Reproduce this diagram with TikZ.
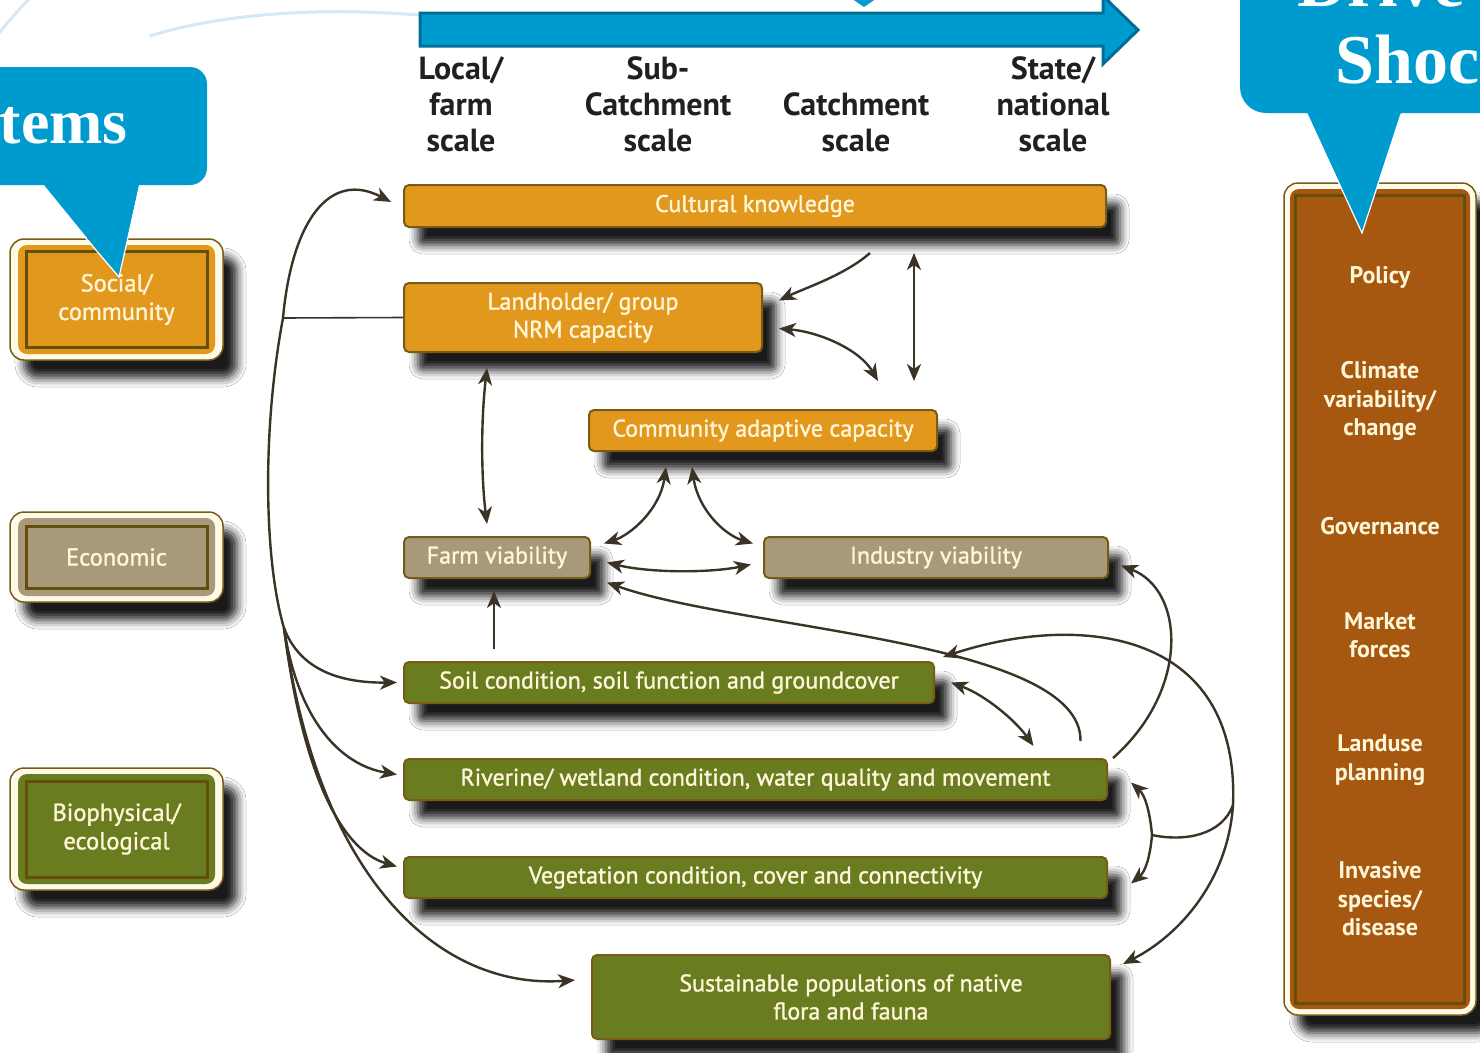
\documentclass[tikz,border=0pt]{standalone}
\usepackage{fontspec}
\setmainfont{PT Sans}
\newfontfamily\labelfont[FakeBold=1.2]{PT Sans}
\newfontfamily\calloutfont{Liberation Serif}
\usetikzlibrary{arrows.meta,shadows.blur}

\definecolor{calloutblue}{RGB}{0,155,206}
\definecolor{arrowblue}{RGB}{0,110,150}
\definecolor{paleblue}{RGB}{214,232,243}
\definecolor{orangebox}{RGB}{226,152,28}
\definecolor{tanbox}{RGB}{167,153,122}
\definecolor{greenbox}{RGB}{106,124,32}
\definecolor{brownbox}{RGB}{166,88,16}
\definecolor{boxline}{RGB}{118,92,22}
\definecolor{innerline}{RGB}{100,78,12}
\definecolor{creamfill}{RGB}{255,250,232}
\definecolor{labeltext}{RGB}{255,246,218}
\definecolor{linkc}{RGB}{58,51,38}
\definecolor{scaletext}{RGB}{35,31,32}

\tikzset{
  boxshadow/.style={blur shadow={shadow xshift=14pt, shadow yshift=-18pt,
      shadow blur radius=9pt, shadow opacity=90}},
  box/.style={draw=boxline, line width=2pt, rounded corners=5pt, inner sep=0pt,
    text=labeltext, align=center, font=\labelfont\fontsize{24}{28}\selectfont, boxshadow},
  catouter/.style={draw=boxline, line width=1.5pt, fill=creamfill,
    rounded corners=14pt, inner sep=0pt, boxshadow},
  catinner/.style={rounded corners=9pt, inner sep=0pt},
  catline/.style={draw=innerline, line width=3pt, inner sep=0pt, text=labeltext,
    align=center, font=\labelfont\fontsize{24.5}{28.5}\selectfont},
  drvtext/.style={text=labeltext, align=center, inner sep=0pt,
    font=\bfseries\fontsize{24}{28.5}\selectfont},
  scalelabel/.style={text=scaletext, align=center, inner sep=0pt,
    font=\bfseries\fontsize{32}{36}\selectfont},
  callouttext/.style={text=white, inner sep=0pt,
    font=\calloutfont\bfseries\fontsize{64}{70}\selectfont},
  link/.style={draw=linkc, line width=2.4pt},
  arr/.style={link, -{Stealth[length=17pt, width=14pt, inset=5pt]}},
  darr/.style={link, {Stealth[length=17pt, width=14pt, inset=5pt]}-{Stealth[length=17pt, width=14pt, inset=5pt]}}
}

\begin{document}
\begin{tikzpicture}[x=1pt, y=-1pt]
    \useasboundingbox (0,0) rectangle (1480,1052);
    \clip (0,0) rectangle (1480,1052);
    \fill[white] (0,0) rectangle (1480,1052);

    \draw[paleblue, line width=3pt] (-5,38) .. controls (8,22) and (18,10) .. (32,-4);
    \draw[paleblue, line width=3pt] (150,36) .. controls (220,14) and (320,6) .. (430,16);

    \filldraw[fill=calloutblue, draw=arrowblue, line width=3pt]
        (420,13) -- (1103,13) -- (1103,-4) -- (1138,30) -- (1103,64) -- (1103,46) -- (420,46) -- cycle;
    \fill[calloutblue] (848,-4) -- (880,-4) -- (864,7) -- cycle;

    \node[scalelabel] (s-local) at ( 461,104) {Local/\\farm\\scale};
    \node[scalelabel] (s-sub)   at ( 658,104) {Sub-\\Catchment\\scale};
    \node[scalelabel] (s-catch) at ( 856,122) {Catchment\\scale};
    \node[scalelabel] (s-state) at (1053,104) {State/\\national\\scale};

    \node[box, fill=orangebox, minimum width=702pt, minimum height=42pt] (cult)  at (755,206)   {Cultural knowledge};
    \node[box, fill=orangebox, minimum width=358pt, minimum height=69pt] (land)  at (583,317.5) {Landholder/ group\\NRM capacity};
    \node[box, fill=orangebox, minimum width=348pt, minimum height=41pt] (comm)  at (763,430.5) {Community adaptive capacity};
    \node[box, fill=tanbox,    minimum width=186pt, minimum height=41pt] (farm)  at (497,557.5) {Farm viability};
    \node[box, fill=tanbox,    minimum width=344pt, minimum height=41pt] (ind)   at (936,557.5) {Industry viability};
    \node[box, fill=greenbox,  minimum width=530pt, minimum height=41pt] (soil)  at (669,682.5) {Soil condition, soil function and groundcover};
    \node[box, fill=greenbox,  minimum width=703pt, minimum height=41pt] (river) at (755.5,779.5) {Riverine/ wetland condition, water quality and movement};
    \node[box, fill=greenbox,  minimum width=703pt, minimum height=41pt] (veg)   at (755.5,877.5) {Vegetation condition, cover and connectivity};
    \node[box, fill=greenbox,  minimum width=518pt, minimum height=84pt] (pop)   at (851,997)   {Sustainable populations of native\\flora and fauna};

    \node[catouter, minimum width=213pt, minimum height=121pt] (social) at (116.5,299.5) {};
    \node[catinner, fill=orangebox, minimum width=197pt, minimum height=109pt] (social-in) at (social) {};
    \node[catline, minimum width=181pt, minimum height=96pt] (social-txt) at (social) {Social/\\community};

    \node[catouter, minimum width=213pt, minimum height=90pt] (econ) at (116.5,557) {};
    \node[catinner, fill=tanbox, minimum width=197pt, minimum height=78pt] (econ-in) at (econ) {};
    \node[catline, minimum width=181pt, minimum height=62pt] (econ-txt) at (econ) {Economic};

    \node[catouter, minimum width=213pt, minimum height=122pt] (bio) at (116.5,829) {};
    \node[catinner, fill=greenbox, minimum width=197pt, minimum height=110pt] (bio-in) at (bio) {};
    \node[catline, minimum width=181pt, minimum height=96pt] (bio-txt) at (bio) {Biophysical/\\ecological};

    \node[catouter, minimum width=192pt, minimum height=832pt] (drv) at (1380,599) {};
    \node[catinner, fill=brownbox, minimum width=180pt, minimum height=820pt] (drv-in) at (drv) {};
    \node[catline, minimum width=169pt, minimum height=808pt] (drv-line) at (drv) {};

    \node[drvtext] (policy)   at (1380,277)   {Policy};
    \node[drvtext] (climate)  at (1380,401)   {Climate\\variability/\\change};
    \node[drvtext] (gov)      at (1380,526)   {Governance};
    \node[drvtext] (market)   at (1380,635.5) {Market\\forces};
    \node[drvtext] (landuse)  at (1380,760)   {Landuse\\planning};
    \node[drvtext] (invasive) at (1380,899)   {Invasive\\species/\\disease};

    \coordinate (jct)   at (283,318);
    \coordinate (split) at (284,628);
    \coordinate (kn)    at (870,253);
    \coordinate (kc)    at (878,381);
    \coordinate (rj)    at (1233,805);
    \coordinate (lj)    at (1152,835);

    \draw[link, line width=1.6pt] (land.west) -- (jct);
    \draw[arr] (jct) .. controls (292,220) and (330,170) .. ([xshift=-12pt,yshift=4pt]cult.west);
    \draw[link] (jct) .. controls (262,430) and (264,560) .. (split);
    \draw[arr] (split) .. controls (300,670) and (340,683) .. ([xshift=-6pt]soil.west);
    \draw[arr] (split) .. controls (298,720) and (340,765) .. ([xshift=-6pt,yshift=5pt]river.west);
    \draw[arr] (split) .. controls (302,770) and (340,850) .. ([xshift=-6pt,yshift=11pt]veg.west);
    \draw[arr] (split) .. controls (318,880) and (440,990) .. ([xshift=-16pt,yshift=17pt]pop.west);

    \draw[arr]  (kn) .. controls (845,275) and (805,288) .. ([xshift=16pt,yshift=17pt]land.east);
    \draw[darr] ([xshift=16pt,yshift=-11pt]land.east) .. controls (820,332) and (860,350) .. (kc);
    \draw[darr] ([xshift=159pt,yshift=-25pt]cult.south) -- ([xshift=151pt,yshift=28pt]comm.north);
    \draw[darr] ([xshift=-96pt,yshift=-15pt]land.south) .. controls (481,420) and (481,475) .. ([xshift=-10pt,yshift=12pt]farm.north);

    \draw[darr] ([xshift=-97pt,yshift=-15pt]comm.south) .. controls (660,510) and (630,535) .. ([xshift=13pt,yshift=14pt]farm.east);
    \draw[darr] ([xshift=-71pt,yshift=-15pt]comm.south) .. controls (698,510) and (725,535) .. ([xshift=-10pt,yshift=14pt]ind.west);
    \draw[darr] ([xshift=16pt,yshift=-5pt]farm.east) .. controls (650,573) and (710,573) .. ([xshift=-12pt,yshift=-7pt]ind.west);
    \draw[arr]  ([xshift=-175pt,yshift=12pt]soil.north) -- ([xshift=-3pt,yshift=-12pt]farm.south);

    \draw[arr]  ([xshift=325pt,yshift=17pt]river.north) .. controls (1082,640) and (740,630) .. ([xshift=16pt,yshift=-25pt]farm.east);
    \draw[arr]  ([xshift=5pt]river.north east) .. controls (1190,690) and (1185,590) .. ([xshift=12pt,yshift=-8pt]ind.east);
    \draw[darr] ([xshift=16pt]soil.east) .. controls (985,695) and (1015,720) .. ([xshift=278pt,yshift=12pt]river.north);

    \draw[arr]  (rj) .. controls (1240,630) and (1080,612) .. ([xshift=8pt,yshift=4pt]soil.north east);
    \draw[arr]  (rj) .. controls (1228,880) and (1180,935) .. ([xshift=12pt,yshift=-10pt]pop.north east);
    \draw[link] (rj) .. controls (1222,835) and (1185,842) .. (lj);
    \draw[arr]  (lj) .. controls (1150,812) and (1145,795) .. ([xshift=23pt,yshift=-3pt]river.east);
    \draw[arr]  (lj) .. controls (1150,858) and (1145,872) .. ([xshift=23pt,yshift=-6pt]veg.east);

    \fill[calloutblue, rounded corners=17pt] (-40,67) rectangle (207,185);
    \fill[calloutblue] (40,180) -- (140,180) -- (119,277) -- cycle;
    \draw[white, line width=1.2pt] (41,186) -- (119,277) -- (139.8,186);
    \node[callouttext, anchor=base east] (systems) at (128,143) {tems};

    \fill[calloutblue, rounded corners=26pt] (1240,-60) rectangle (1540,113);
    \fill[calloutblue] (1305,108) -- (1403,108) -- (1362,233) -- cycle;
    \draw[white, line width=1.2pt] (1307,114) -- (1362,233) -- (1401,114);
    \node[callouttext, font=\calloutfont\bfseries\fontsize{70}{76}\selectfont, anchor=base west] (shocks)  at (1335,83) {Shoc};
    \node[callouttext, font=\calloutfont\bfseries\fontsize{70}{76}\selectfont, anchor=base west] (drivers) at (1297,6)  {Drive};
\end{tikzpicture}
\end{document}
